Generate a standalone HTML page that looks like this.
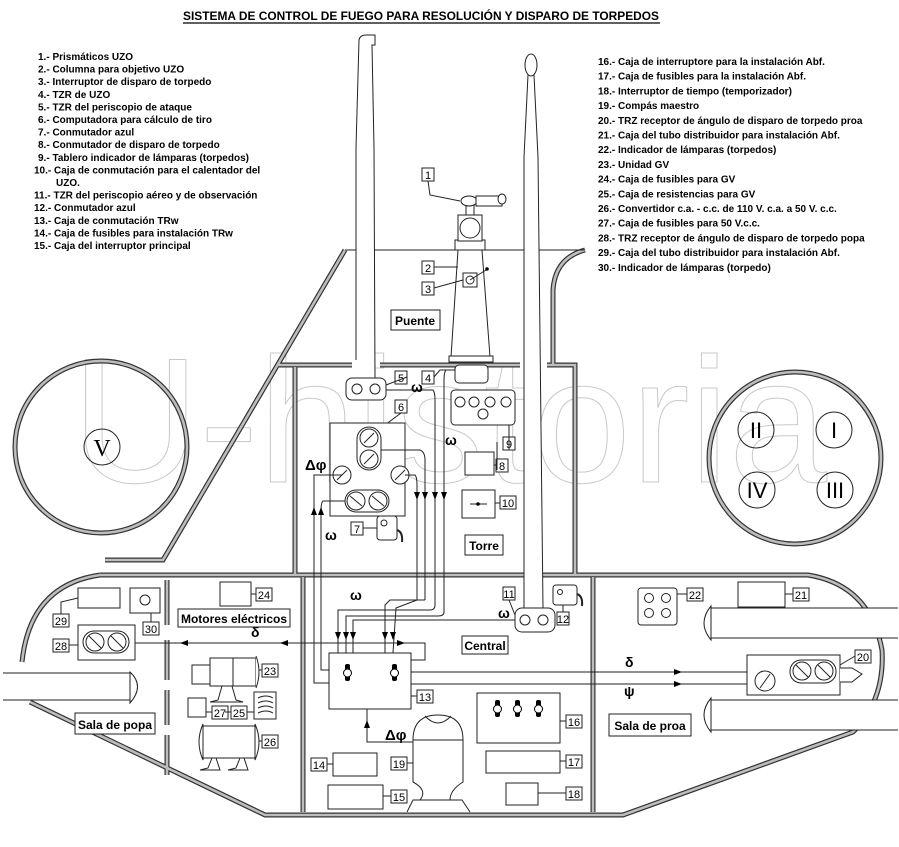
<!DOCTYPE html>
<html><head><meta charset="utf-8"><style>
html,body{margin:0;padding:0;background:#fff}
svg{display:block}
text{font-family:"Liberation Sans",sans-serif}
.l{font-size:10px;font-weight:bold;fill:#000}
.n{font-size:11px;fill:#000}
.lb{font-size:12px;font-weight:bold;fill:#000}
.p1{fill:none;stroke:#333;stroke-width:5}
.p2{fill:none;stroke:#bdbdbd;stroke-width:2.6}
.t{fill:none;stroke:#222;stroke-width:1}
.w{fill:#fff;stroke:#222;stroke-width:1}
</style></head><body>
<svg width="899" height="847" viewBox="0 0 899 847" xmlns="http://www.w3.org/2000/svg">
<text x="72" y="482" font-size="178" textLength="755" lengthAdjust="spacingAndGlyphs" style="font-family:'Liberation Sans',sans-serif;fill:none;stroke:#c8c8c8;stroke-width:1">U-historia</text>

<text x="421" y="20" text-anchor="middle" style="font-size:11.5px;font-weight:bold" textLength="476" lengthAdjust="spacingAndGlyphs">SISTEMA DE CONTROL DE FUEGO PARA RESOLUCIÓN Y DISPARO DE TORPEDOS</text>
<line x1="183" y1="23" x2="660" y2="23" stroke="#000" stroke-width="1.2"/>

<g class="l">
<text x="38" y="60">1.- Prismáticos UZO</text>
<text x="38" y="72.6">2.- Columna para objetivo UZO</text>
<text x="38" y="85.2">3.- Interruptor de disparo de torpedo</text>
<text x="38" y="97.8">4.- TZR de UZO</text>
<text x="38" y="110.4">5.- TZR del periscopio de ataque</text>
<text x="38" y="123">6.- Computadora para cálculo de tiro</text>
<text x="38" y="135.6">7.- Conmutador azul</text>
<text x="38" y="148.2">8.- Conmutador de disparo de torpedo</text>
<text x="38" y="160.8">9.- Tablero indicador de lámparas (torpedos)</text>
<text x="34" y="173.4">10.- Caja de conmutación para el calentador del</text>
<text x="56" y="186">UZO.</text>
<text x="34" y="198.6">11.- TZR del periscopio aéreo y de observación</text>
<text x="34" y="211.2">12.- Conmutador azul</text>
<text x="34" y="223.8">13.- Caja de conmutación TRw</text>
<text x="34" y="236.4">14.- Caja de fusibles para instalación TRw</text>
<text x="34" y="249">15.- Caja del interruptor principal</text>
<text x="598" y="65">16.- Caja de interruptore para la instalación Abf.</text>
<text x="598" y="79.7">17.- Caja de fusibles para la instalación Abf.</text>
<text x="598" y="94.4">18.- Interruptor de tiempo (temporizador)</text>
<text x="598" y="109.1">19.- Compás maestro</text>
<text x="598" y="123.8">20.- TRZ receptor de ángulo de disparo de torpedo proa</text>
<text x="598" y="138.5">21.- Caja del tubo distribuidor para instalación Abf.</text>
<text x="598" y="153.2">22.- Indicador de lámparas (torpedos)</text>
<text x="598" y="167.9">23.- Unidad GV</text>
<text x="598" y="182.6">24.- Caja de fusibles para GV</text>
<text x="598" y="197.3">25.- Caja de resistencias para GV</text>
<text x="598" y="212">26.- Convertidor c.a. - c.c. de 110 V. c.a. a 50 V. c.c.</text>
<text x="598" y="226.7">27.- Caja de fusibles para 50 V.c.c.</text>
<text x="598" y="241.4">28.- TRZ receptor de ángulo de disparo de torpedo popa</text>
<text x="598" y="256.1">29.- Caja del tubo distribuidor para instalación Abf.</text>
<text x="598" y="270.8">30.- Indicador de lámparas (torpedo)</text>
</g>

<g class="p1"><path d="M345 250 L163 560 L105 560 M278 365 L352 365 M380 365 L520 365 M547 365 L575 365 L575 575 M295 367 L295 575 M553 365 L553 290 Q555 258 585 250 M100 575 L808 575 Q870 585 882 650 Q885 700 853 732 L623 815 L265 815 L30 702 M100 575 Q30 585 22 662 M303 577 L303 812 M593 577 L593 812 M167 580 L167 625 M167 640 L167 680 M167 690 L167 725 M167 735 L167 775"/><circle cx="101" cy="447" r="86"/><circle cx="795" cy="458" r="86"/></g>
<g class="p2"><path d="M345 250 L163 560 L105 560 M278 365 L352 365 M380 365 L520 365 M547 365 L575 365 L575 575 M295 367 L295 575 M553 365 L553 290 Q555 258 585 250 M100 575 L808 575 Q870 585 882 650 Q885 700 853 732 L623 815 L265 815 L30 702 M100 575 Q30 585 22 662 M303 577 L303 812 M593 577 L593 812 M167 580 L167 625 M167 640 L167 680 M167 690 L167 725 M167 735 L167 775"/><circle cx="101" cy="447" r="86"/><circle cx="795" cy="458" r="86"/></g>

<line x1="345" y1="250" x2="585" y2="250" stroke="#222"/>

<circle cx="102" cy="447" r="18" class="t"/><text x="102" y="456" text-anchor="middle" style="font-family:'Liberation Serif',serif;font-size:24px">V</text>
<g class="t"><circle cx="756" cy="430" r="18"/><circle cx="834" cy="430" r="18"/><circle cx="757" cy="490" r="18"/><circle cx="835" cy="490" r="18"/></g>
<g style="font-family:'Liberation Serif',serif;font-size:22px" text-anchor="middle"><text x="756" y="438">II</text><text x="834" y="438">I</text><text x="757" y="498">IV</text><text x="835" y="498">III</text></g>

<path d="M356 360 L356 148 L359 40 Q360 35 366 35 L375 35 L375 45 L372 45 L374 148 L375 378" class="w"/>
<path d="M524 608 L524 157 L528 75 L534 75 L538 157 L543 608" class="w"/>
<ellipse cx="531" cy="65" rx="6" ry="11" class="w"/>

<path d="M458 250 L482 250 L490 357 L451 357 Z" class="w"/>
<rect x="455" y="240" width="30" height="10" class="w"/>
<rect x="449" y="356" width="44" height="6" class="w"/>
<rect x="458" y="215" width="24" height="26" class="w"/>
<circle cx="470" cy="228" r="10" class="w" stroke-width="2"/>
<rect x="466" y="205" width="8" height="10" class="w"/>
<ellipse cx="469" cy="201" rx="8" ry="5" class="w"/>
<rect x="476" y="196" width="26" height="10" class="w"/>
<ellipse cx="502" cy="199" rx="4" ry="5" class="w"/>
<rect x="463" y="273" width="14" height="14" class="w"/><circle cx="470" cy="280" r="4" class="t"/>
<line x1="470" y1="280" x2="486" y2="270" stroke="#222"/><circle cx="487" cy="269" r="1.8"/>

<g class="w">
<rect x="422" y="168" width="12" height="13"/><rect x="422" y="261" width="12" height="13"/><rect x="422" y="282" width="12" height="13"/>
<rect x="422" y="371" width="12" height="13"/><rect x="395" y="371" width="12" height="13"/><rect x="395" y="400" width="12" height="13"/>
<rect x="503" y="437" width="12" height="13"/><rect x="496" y="459" width="12" height="13"/><rect x="500" y="496" width="16" height="13"/>
<rect x="351" y="522" width="12" height="13"/>
<rect x="503" y="587" width="12" height="13"/><rect x="557" y="612" width="12" height="13"/><rect x="417" y="690" width="16" height="13"/>
<rect x="566" y="715" width="16" height="13"/><rect x="566" y="755" width="16" height="13"/><rect x="566" y="787" width="16" height="13"/>
<rect x="311" y="758" width="16" height="13"/><rect x="391" y="790" width="16" height="13"/><rect x="391" y="757" width="16" height="13"/>
<rect x="855" y="650" width="16" height="13"/><rect x="793" y="588" width="16" height="13"/><rect x="687" y="588" width="16" height="13"/>
<rect x="256" y="588" width="16" height="13"/><rect x="53" y="614" width="16" height="13"/><rect x="143" y="622" width="16" height="13"/>
<rect x="53" y="639" width="16" height="13"/><rect x="262" y="664" width="16" height="13"/><rect x="212" y="706" width="16" height="13"/>
<rect x="231" y="706" width="16" height="13"/><rect x="262" y="735" width="16" height="13"/>
</g>
<g class="n" text-anchor="middle">
<text x="428" y="179">1</text><text x="428" y="272">2</text><text x="428" y="293">3</text><text x="428" y="382">4</text><text x="401" y="382">5</text><text x="401" y="411">6</text>
<text x="509" y="448">9</text><text x="502" y="470">8</text><text x="508" y="507">10</text><text x="357" y="533">7</text>
<text x="509" y="598">11</text><text x="563" y="623">12</text><text x="425" y="701">13</text><text x="574" y="726">16</text><text x="574" y="766">17</text><text x="574" y="798">18</text>
<text x="319" y="769">14</text><text x="399" y="801">15</text><text x="399" y="768">19</text><text x="863" y="661">20</text><text x="801" y="599">21</text><text x="695" y="599">22</text>
<text x="264" y="599">24</text><text x="61" y="625">29</text><text x="151" y="633">30</text><text x="61" y="650">28</text><text x="270" y="675">23</text><text x="220" y="717">27</text><text x="239" y="717">25</text><text x="270" y="746">26</text>
</g>
<g stroke="#222" fill="none">
<path d="M428 181 L430 195 L460 201"/><path d="M434 267 L458 267"/><path d="M434 288 L463 280"/>
<path d="M434 377 L440 370 L455 370"/><path d="M407 377 L386 385"/><path d="M401 413 L385 425 L385 426"/>
<path d="M509 450 L509 425"/><path d="M496 465 L490 465"/><path d="M500 503 L495 503"/><path d="M363 528 L377 528"/>
<path d="M509 600 L515 615"/><path d="M563 612 L563 602"/><path d="M417 696 L411 696"/><path d="M566 721 L560 721"/><path d="M566 761 L560 761"/><path d="M566 793 L537 793"/>
<path d="M327 764 L333 764"/><path d="M391 796 L383 796"/><path d="M407 763 L413 763"/><path d="M855 656 L840 665"/><path d="M793 594 L785 594"/><path d="M687 594 L677 594"/>
<path d="M256 594 L250 594"/><path d="M61 614 L61 602 L78 598"/><path d="M151 622 L151 608"/><path d="M69 645 L78 645"/><path d="M262 670 L256 670"/><path d="M212 712 L205 712"/><path d="M231 712 L225 712 M247 712 L255 712"/><path d="M262 741 L255 741"/>
</g>

<rect x="346" y="378" width="40" height="22" rx="6" class="w"/><circle cx="357" cy="389" r="5" class="t"/><circle cx="375" cy="389" r="5" class="t"/>
<rect x="455" y="365" width="33" height="18" rx="4" class="w"/>
<rect x="451" y="390" width="64" height="35" rx="4" class="w"/>
<g class="t"><circle cx="460" cy="402" r="5"/><circle cx="474" cy="402" r="5"/><circle cx="490" cy="402" r="5"/><circle cx="506" cy="402" r="5"/><circle cx="483" cy="414" r="5"/></g>
<rect x="465" y="452" width="29" height="23" class="w"/><line x1="497" y1="442" x2="497" y2="470" stroke="#222"/>
<rect x="462" y="490" width="33" height="28" class="w"/><line x1="470" y1="504" x2="487" y2="504" stroke="#222"/><circle cx="478" cy="504" r="1.8"/>
<rect x="465" y="535" width="38" height="20" class="w" stroke-width="2"/><text x="484" y="550" class="lb" text-anchor="middle">Torre</text>
<rect x="391" y="310" width="49" height="20" class="w" stroke-width="2"/><text x="415" y="325" class="lb" text-anchor="middle">Puente</text>
<rect x="330" y="423" width="75" height="93" class="w"/>
<rect x="357" y="427" width="24" height="43" rx="12" class="w" stroke-width="1.5"/>
<circle cx="369" cy="438" r="9" class="t"/><circle cx="369" cy="459" r="9" class="t"/>
<circle cx="342" cy="475" r="9" class="w"/><circle cx="400" cy="475" r="9" class="w"/>
<rect x="345" y="490" width="44" height="22" rx="11" class="w" stroke-width="1.5"/><circle cx="356" cy="501" r="9" class="t"/><circle cx="378" cy="501" r="9" class="t"/>
<g stroke="#222"><line x1="364" y1="443" x2="374" y2="433"/><line x1="364" y1="464" x2="374" y2="454"/><line x1="337" y1="480" x2="347" y2="470"/><line x1="395" y1="480" x2="405" y2="470"/><line x1="350" y1="496" x2="362" y2="506"/><line x1="372" y1="496" x2="384" y2="506"/></g>
<rect x="377" y="516" width="20" height="24" rx="3" class="w"/><circle cx="384" cy="523" r="3" class="t"/>
<path d="M397 530 Q403 532 402 542" stroke="#222" fill="none" stroke-width="2"/>
<g stroke="#222" fill="none">
<path d="M386 390 L433 390 Q435 392 435 400 L435 600"/>
<path d="M455 370 L446 370 Q444 372 444 380 L444 600"/>
<path d="M381 450 L420 450 Q425 452 425 460 L425 600"/>
<path d="M405 475 L415 475 Q417 477 417 485 L417 600"/>
<path d="M342 475 L314 475 L314 620"/>
<path d="M345 501 L323 501 Q321 503 321 510 L321 620"/>
</g>
<g fill="#000">
<path d="M414 492 L420 492 L417 500Z"/><path d="M422 492 L428 492 L425 500Z"/><path d="M432 492 L438 492 L435 500Z"/><path d="M441 492 L447 492 L444 500Z"/>
<path d="M311 515 L317 515 L314 507Z"/><path d="M318 515 L324 515 L321 507Z"/>
</g>
<g style="font-family:'Liberation Serif',serif;font-weight:bold;font-size:14px">
<text x="411" y="392">ω</text><text x="445" y="445">ω</text><text x="325" y="540">ω</text><text x="350" y="600">ω</text><text x="498" y="618">ω</text>
<text x="305" y="470" style="font-size:15px">Δφ</text><text x="385" y="740" style="font-size:15px">Δφ</text>
<text x="251" y="637">δ</text><text x="625" y="667">δ</text><text x="624" y="696">ψ</text>
</g>

<rect x="515" y="608" width="40" height="24" rx="7" class="w"/><circle cx="525" cy="620" r="5" class="t"/><circle cx="543" cy="620" r="5" class="t"/>
<rect x="553" y="585" width="24" height="20" rx="3" class="w"/><circle cx="560" cy="592" r="2.5" class="t"/><path d="M577 594 Q583 596 582 606" stroke="#222" fill="none" stroke-width="2"/>
<rect x="462" y="636" width="46" height="18" class="w" stroke-width="2"/><text x="485" y="650" class="lb" text-anchor="middle">Central</text>
<rect x="329" y="653" width="82" height="56" class="w"/>
<g fill="#000"><rect x="345" y="664" width="5" height="17" rx="2"/><rect x="392" y="664" width="5" height="17" rx="2"/><circle cx="347.5" cy="673" r="4" fill="#fff" stroke="#000"/><circle cx="394.5" cy="673" r="4" fill="#fff" stroke="#000"/></g>
<g stroke="#222" fill="none">
<path d="M435 600 L435 605 Q435 610 430 610 L338 610 L338 653"/>
<path d="M444 600 L444 612 Q444 616 438 616 L346 616 L346 653"/>
<path d="M515 620 L353 620 L353 653"/>
<path d="M425 600 L390 600 L385 605 L385 653"/>
<path d="M417 600 L396 608 L393 653"/>
<path d="M314 620 L314 683 L329 683"/><path d="M321 620 L321 670 L329 670"/>
<path d="M411 660 L425 660 L425 643 L300 643 L135 643"/>
<path d="M411 672 L760 672 Q760 663 765 663 L812 663 L812 668"/>
<path d="M411 684 L760 684"/>
<path d="M367 709 L367 742 L413 742"/>
</g>
<g fill="#000"><path d="M335 632 L341 632 L338 640Z"/><path d="M343 632 L349 632 L346 640Z"/><path d="M350 632 L356 632 L353 640Z"/><path d="M382 632 L388 632 L385 640Z"/><path d="M390 632 L396 632 L393 640Z"/>
<path d="M405 643 L397 640 L397 646Z"/><path d="M180 643 L188 640 L188 646Z"/><path d="M280 643 L288 640 L288 646Z"/>
<path d="M682 672 L674 669 L674 675Z"/><path d="M682 684 L674 681 L674 687Z"/><path d="M774 663 L766 660 L766 666Z"/><path d="M364 728 L370 728 L367 720Z"/></g>
<rect x="477" y="693" width="83" height="50" class="w"/>
<g fill="#000"><rect x="495" y="700" width="5" height="17" rx="2"/><rect x="515" y="700" width="5" height="17" rx="2"/><rect x="536" y="700" width="5" height="17" rx="2"/><circle cx="497.5" cy="709" r="4" fill="#fff" stroke="#000"/><circle cx="517.5" cy="709" r="4" fill="#fff" stroke="#000"/><circle cx="538.5" cy="709" r="4" fill="#fff" stroke="#000"/></g>
<rect x="486" y="751" width="74" height="22" class="w"/><rect x="506" y="783" width="32" height="22" class="w"/>
<rect x="333" y="753" width="44" height="23" class="w"/><rect x="328" y="785" width="55" height="24" class="w"/>
<path d="M413 740 Q413 715 438 715 Q463 715 463 740 L463 782 Q450 790 450 800 L420 800 Q428 790 413 782 Z" class="w"/>
<line x1="413" y1="740" x2="463" y2="740" stroke="#222"/><path d="M425 716 Q438 730 451 716" class="t"/>
<path d="M407 812 L413 800 L462 800 L470 812" class="t"/>

<rect x="78" y="588" width="42" height="20" class="w"/>
<rect x="130" y="588" width="30" height="25" class="w"/><circle cx="145" cy="600" r="5" class="t"/>
<rect x="78" y="625" width="57" height="35" class="w"/>
<rect x="83" y="631" width="46" height="22" rx="11" class="w"/><circle cx="95" cy="642" r="9" class="t"/><circle cx="117" cy="642" r="9" class="t"/>
<g stroke="#222"><line x1="89" y1="636" x2="101" y2="648"/><line x1="111" y1="636" x2="123" y2="648"/></g>
<path d="M3 673 L130 673 L130 700 L3 700" class="w"/><path d="M130 672 Q145 686 130 703 Z" class="w"/>
<rect x="75" y="713" width="80" height="21" class="w" stroke-width="2"/><text x="115" y="729" class="lb" text-anchor="middle">Sala de popa</text>
<rect x="220" y="582" width="31" height="24" class="w"/>
<rect x="178" y="609" width="112" height="18" class="w" stroke-width="2"/><text x="234" y="623" class="lb" text-anchor="middle">Motores eléctricos</text>
<rect x="192" y="665" width="18" height="19" class="w"/><rect x="210" y="658" width="46" height="28" class="w"/><line x1="233" y1="658" x2="233" y2="686" stroke="#222"/><path d="M256 656 Q262 672 256 688" class="w"/>
<path d="M222 686 L218 700 L210 702 L243 702 L236 700 L232 686" class="t"/>
<rect x="188" y="698" width="18" height="19" class="w"/>
<rect x="254" y="692" width="22" height="27" class="w"/><path d="M258 698 Q266 694 273 698 M258 703 Q266 699 273 703 M258 708 Q266 704 273 708 M258 713 Q266 709 273 713" class="t"/>
<rect x="203" y="726" width="52" height="32" class="w"/><path d="M203 724 Q195 742 203 760 Z M255 724 Q263 742 255 760Z" class="w"/>
<path d="M212 758 L208 768 L200 770 L220 770 L216 758 M240 758 L236 768 L228 770 L248 770 L244 758" class="t"/>

<rect x="638" y="588" width="39" height="37" rx="3" class="w"/>
<g class="t"><circle cx="649" cy="598" r="4.5"/><circle cx="666" cy="598" r="4.5"/><circle cx="649" cy="613" r="4.5"/><circle cx="666" cy="613" r="4.5"/></g>
<rect x="738" y="582" width="47" height="25" class="w"/>
<path d="M898 608 L711 608 L711 638 L898 638" class="w"/><path d="M711 606 Q697 623 711 640Z" class="w"/>
<path d="M898 700 L711 700 L711 730 L898 730" class="w"/><path d="M711 698 Q697 715 711 732Z" class="w"/>
<rect x="747" y="655" width="93" height="40" class="w"/>
<rect x="790" y="660" width="46" height="23" rx="11" class="w"/><circle cx="802" cy="671" r="9" class="t"/><circle cx="824" cy="671" r="9" class="t"/>
<circle cx="765" cy="681" r="10" class="w"/>
<g stroke="#222"><line x1="796" y1="665" x2="808" y2="677"/><line x1="818" y1="665" x2="830" y2="677"/><line x1="760" y1="688" x2="770" y2="674"/></g>
<path d="M840 668 L852 668 L862 674 L852 682 L840 682" class="w"/>
<rect x="609" y="714" width="82" height="22" class="w" stroke-width="2"/><text x="650" y="730" class="lb" text-anchor="middle">Sala de proa</text>
</svg>
</body></html>
